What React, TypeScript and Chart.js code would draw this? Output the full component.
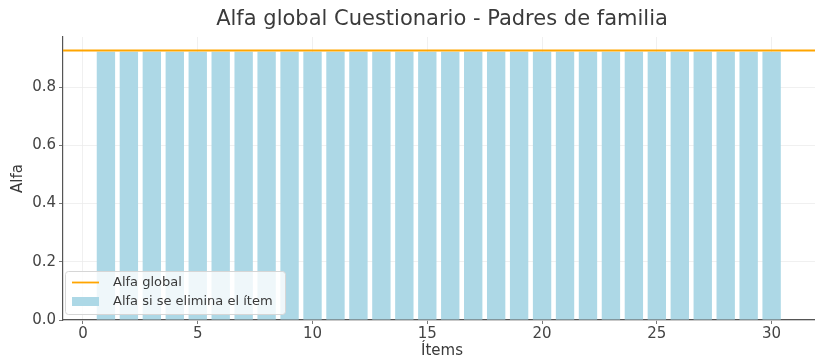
import React, { useEffect, useRef } from "react";
import { Chart, registerables } from "chart.js";

Chart.register(...registerables);

const items = [1, 2, 3, 4, 5, 6, 7, 8, 9, 10, 11, 12, 13, 14, 15, 16, 17, 18, 19, 20, 21, 22, 23, 24, 25, 26, 27, 28, 29, 30];
const alphaIfDeleted = [
  0.921, 0.921, 0.921, 0.921, 0.921, 0.921, 0.921, 0.921, 0.921, 0.921,
  0.921, 0.921, 0.921, 0.921, 0.921, 0.921, 0.921, 0.921, 0.921, 0.921,
  0.921, 0.921, 0.921, 0.921, 0.921, 0.921, 0.921, 0.921, 0.921, 0.921,
];
const globalAlpha = 0.926;
const xTicks = [0, 5, 10, 15, 20, 25, 30];
const yTicks = [0, 0.2, 0.4, 0.6, 0.8];
const titleText = "Alfa global Cuestionario - Padres de familia";
const xTitle = "Ítems";
const yTitle = "Alfa";
const legendLabels = ["Alfa global", "Alfa si se elimina el ítem"];

const X_MIN = -0.87;
const X_MAX = 31.89;
const Y_MAX = 0.972;
const FONT = "'DejaVu Sans', sans-serif";
const ORANGE = "#ffa500";
const BLUE = "#add8e6";

const textPlugin = {
  id: "textPlugin",
  afterDraw(chart: any) {
    const ctx = chart.ctx as CanvasRenderingContext2D;
    const area = chart.chartArea;
    const cx = 442;
    ctx.save();
    ctx.fillStyle = "#3a3a3a";
    ctx.textAlign = "center";
    ctx.textBaseline = "middle";
    ctx.font = `21px ${FONT}`;
    ctx.fillText(titleText, cx, 20);
    ctx.font = `15px ${FONT}`;
    ctx.fillText(xTitle, cx, 351);
    ctx.save();
    ctx.translate(18, (area.top + area.bottom) / 2);
    ctx.rotate(-Math.PI / 2);
    ctx.fillText(yTitle, 0, 0);
    ctx.restore();

    // legend
    const lx = 65.5, ly = 271.5, lw = 220, lh = 43;
    ctx.beginPath();
    if ((ctx as any).roundRect) (ctx as any).roundRect(lx, ly, lw, lh, 3);
    else ctx.rect(lx, ly, lw, lh);
    ctx.fillStyle = "rgba(255,255,255,0.8)";
    ctx.fill();
    ctx.strokeStyle = "#d6d6d6";
    ctx.lineWidth = 1;
    ctx.stroke();
    ctx.strokeStyle = ORANGE;
    ctx.lineWidth = 1.8;
    ctx.beginPath();
    ctx.moveTo(72, 282.5);
    ctx.lineTo(99, 282.5);
    ctx.stroke();
    ctx.fillStyle = BLUE;
    ctx.fillRect(72, 297, 27, 9);
    ctx.fillStyle = "#3a3a3a";
    ctx.textAlign = "left";
    ctx.font = `13px ${FONT}`;
    ctx.fillText(legendLabels[0], 113, 282.5);
    ctx.fillText(legendLabels[1], 113, 301.5);
    ctx.restore();
  },
};

export default function App() {
  const ref = useRef<HTMLCanvasElement | null>(null);
  useEffect(() => {
    if (!ref.current) return;
    const chart = new Chart(ref.current, {
      type: "bar",
      data: {
        datasets: [
          {
            type: "line",
            label: legendLabels[0],
            data: [
              { x: X_MIN, y: globalAlpha },
              { x: X_MAX, y: globalAlpha },
            ],
            borderColor: ORANGE,
            borderWidth: 2,
            pointRadius: 0,
            order: 0,
          } as any,
          {
            type: "bar",
            label: legendLabels[1],
            data: items.map((x, i) => ({ x, y: alphaIfDeleted[i] })),
            backgroundColor: BLUE,
            borderWidth: 0,
            barPercentage: 0.8,
            categoryPercentage: 1,
            order: 1,
          } as any,
        ],
      },
      options: {
        animation: false,
        responsive: false,
        maintainAspectRatio: false,
        layout: { padding: { top: 37, right: 0, left: 0, bottom: 0 } },
        plugins: {
          legend: { display: false },
          title: { display: false },
          tooltip: { enabled: false },
        },
        scales: {
          x: {
            type: "linear",
            min: X_MIN,
            max: X_MAX,
            offset: false,
            afterBuildTicks: (s: any) => {
              s.ticks = xTicks.map((v) => ({ value: v }));
            },
            afterFit: (s: any) => {
              s.height = 43;
            },
            ticks: {
              font: { family: FONT, size: 15 },
              color: "#444444",
              padding: 1,
              maxRotation: 0,
              autoSkip: false,
            },
            grid: {
              offset: false,
              color: "#ececec",
              lineWidth: 0.8,
              tickLength: 4,
              tickColor: "#555555",
            },
            border: { color: "#555555", width: 1.2 },
          },
          y: {
            min: 0,
            max: Y_MAX,
            afterBuildTicks: (s: any) => {
              s.ticks = yTicks.map((v) => ({ value: v }));
            },
            afterFit: (s: any) => {
              s.width = 63;
            },
            ticks: {
              font: { family: FONT, size: 15 },
              color: "#444444",
              padding: 3,
              callback: (v: any) => Number(v).toFixed(1),
            },
            grid: {
              color: "#ececec",
              lineWidth: 0.8,
              tickLength: 4,
              tickColor: "#555555",
            },
            border: { color: "#555555", width: 1.2 },
          },
        },
      },
      plugins: [textPlugin],
    });
    return () => chart.destroy();
  }, []);
  return (
    <div style={{ position: "fixed", left: 0, top: 0, width: 815, height: 363, background: "#ffffff" }}>
      <canvas ref={ref} width={815} height={363} style={{ width: 815, height: 363, display: "block" }} />
    </div>
  );
}
